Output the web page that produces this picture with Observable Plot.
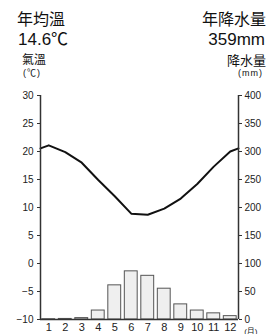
<!DOCTYPE html>
<html><head><meta charset="utf-8">
<script src="https://cdn.jsdelivr.net/npm/d3@7"></script>
<script src="https://cdn.jsdelivr.net/npm/@observablehq/plot@0.6"></script>
<style>
body{margin:0;background:#fff;}
#wrap{position:relative;width:269px;height:334px;font-family:"Liberation Sans","Noto Sans CJK TC",sans-serif;color:#111;}
.t{position:absolute;white-space:nowrap;}
#wrap svg{position:absolute;left:0;top:0;}
</style></head>
<body>
<div id="wrap">
  <div class="t" style="left:17px;top:10px;font-size:16px;line-height:16px;font-family:'Noto Sans CJK TC'">年均溫</div>
  <div class="t" style="left:18px;top:31px;font-size:17px;line-height:17px;">14.6℃</div>
  <div class="t" style="left:22px;top:53px;font-size:12px;line-height:12px;font-family:'Noto Sans CJK TC'">氣溫</div>
  <div class="t" style="left:23px;top:69px;font-size:9px;line-height:9px;letter-spacing:1px;">(℃)</div>
  <div class="t" style="right:3px;top:10px;font-size:16px;line-height:16px;font-family:'Noto Sans CJK TC'">年降水量</div>
  <div class="t" style="right:4px;top:31px;font-size:17px;line-height:17px;">359mm</div>
  <div class="t" style="right:3px;top:53px;font-size:13px;line-height:13px;font-family:'Noto Sans CJK TC'">降水量</div>
  <div class="t" style="right:6px;top:69px;font-size:9px;line-height:9px;letter-spacing:1px;">(mm)</div>
</div>
<script>
const months = [1,2,3,4,5,6,7,8,9,10,11,12];
const temperature = [21.1,19.9,18.0,14.9,12.0,8.9,8.7,9.8,11.6,14.2,17.3,20.0];
const precipitation = [0.5,1,2.5,16,61,86,78,55,27,16,11,6];
const tempTicks = [-10,-5,0,5,10,15,20,25,30];
const precipTicks = [0,50,100,150,200,250,300,350,400];

// precipitation (0–400 mm) mapped onto temperature (-10–30 ℃)
const p2t = p => -10 + p / 10;
const t2p = t => (t + 10) * 10;

const bars = months.map((m, i) => ({m, p: precipitation[i]}));
const edge = (temperature[0] + temperature[11]) / 2;
const line = [{m: 0.5, t: edge}, ...months.map((m, i) => ({m, t: temperature[i]})), {m: 12.5, t: edge}];

const font = "Liberation Sans, Noto Sans CJK TC, sans-serif";
const chart = Plot.plot({
  width: 269, height: 334,
  marginLeft: 40, marginRight: 31, marginTop: 95, marginBottom: 15,
  style: {fontFamily: font, fontSize: "10px", color: "#222", background: "transparent"},
  x: {type: "linear", domain: [0.5, 12.5], axis: null},
  y: {domain: [-10, 30], axis: null},
  marks: [
    Plot.rectY(bars, {x1: d => d.m - 0.39, x2: d => d.m + 0.39, y1: -10, y2: d => p2t(d.p), fill: "#efefef", stroke: "#555", strokeWidth: 1}),
    Plot.lineY(line, {x: "m", y: "t", stroke: "#111", strokeWidth: 2}),
    Plot.axisY({ticks: tempTicks, anchor: "left", tickSize: 3, tickPadding: 4, fontSize: 10, stroke: "#333", label: null}),
    Plot.axisY({ticks: precipTicks.map(p2t), anchor: "right", tickSize: 3, tickPadding: 3, fontSize: 10, stroke: "#333", tickFormat: t => String(Math.round(t2p(t))), label: null}),
    Plot.axisX({ticks: months, anchor: "bottom", tickSize: 0, tickPadding: 4, fontSize: 11, tickFormat: d => String(d), label: null}),
    Plot.ruleX([0.5, 12.5], {stroke: "#333", strokeWidth: 1.5}),
    Plot.ruleY([-10], {stroke: "#333", strokeWidth: 1.5}),
    Plot.text(["(月)"], {frameAnchor: "bottom-right", dx: 19, dy: 14, fontSize: 8, fill: "#222", textAnchor: "end"})
  ]
});
document.getElementById("wrap").appendChild(chart);
</script>
</body></html>
